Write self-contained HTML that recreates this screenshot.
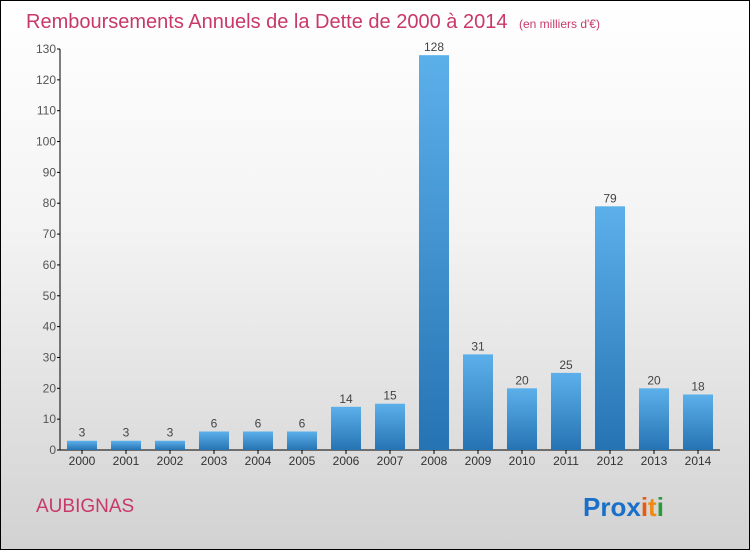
<!DOCTYPE html>
<html><head><meta charset="utf-8"><style>
body{margin:0}
#c{width:750px;height:550px;position:relative;box-sizing:border-box;border:1px solid #000;background:linear-gradient(#ffffff,#f4f4f4 40%,#d2d2d2);font-family:"Liberation Sans",sans-serif;overflow:hidden}
</style></head><body>
<div id="c">
<svg width="750" height="550" style="position:absolute;left:-1px;top:-1px">
<defs><linearGradient id="g" x1="0" y1="0" x2="0" y2="1"><stop offset="0" stop-color="#5cb0ea"/><stop offset="1" stop-color="#2673b3"/></linearGradient></defs>
<text x="26" y="28" font-size="20" fill="#c8386a">Remboursements Annuels de la Dette de 2000 à 2014 <tspan font-size="12" dx="6">(en milliers d'€)</tspan></text>
<g id="plot"></g>
<text x="36" y="512" font-size="19" fill="#c8386a">AUBIGNAS</text>
<text x="583" y="516" font-size="26" font-weight="bold"><tspan fill="#1a6fc8">Pro</tspan><tspan fill="#1a6fc8">x</tspan><tspan fill="#e85a10">i</tspan><tspan fill="#f08a10">t</tspan><tspan fill="#2a9a3a">i</tspan></text>
</svg>
</div>
<script>
const categories=["2000","2001","2002","2003","2004","2005","2006","2007","2008","2009","2010","2011","2012","2013","2014"];
const values=[3,3,3,6,6,6,14,15,128,31,20,25,79,20,18];
const ticks=[0,10,20,30,40,50,60,70,80,90,100,110,120,130];
const ns="http://www.w3.org/2000/svg";
const g=document.getElementById('plot');
const y=v=>450-v*(401/130);
const x=i=>82+i*44;
function mk(t,a,txt){const e=document.createElementNS(ns,t);for(const k in a)e.setAttribute(k,a[k]);if(txt!==undefined)e.textContent=txt;g.appendChild(e);return e;}
let ax=mk('line',{x1:60,y1:y(130),x2:60,y2:450,stroke:'#000'});


let bx=mk('line',{x1:60,y1:450,x2:720,y2:450,stroke:'#000'});


ticks.forEach(t=>{
 mk('line',{x1:57,x2:60,y1:y(t),y2:y(t),stroke:'#000'});
 const l=mk('text',{x:56,y:y(t)+4,'font-size':12,'text-anchor':'end',fill:'#555'},t);
 
 
});
categories.forEach((c,i)=>{
 const b=mk('rect',{x:x(i)-15,y:y(values[i]),width:30,height:450-y(values[i]),fill:'url(#g)'});
 
 
 mk('line',{x1:x(i),x2:x(i),y1:450,y2:454,stroke:'#000'});
 const l=mk('text',{x:x(i),y:465,'font-size':12,'text-anchor':'middle',fill:'#333'},c);
 
 
 const v=mk('text',{x:x(i),y:y(values[i])-4,'font-size':12,'text-anchor':'middle',fill:'#444'},values[i]);
 
 
});
</script>
</body></html>
